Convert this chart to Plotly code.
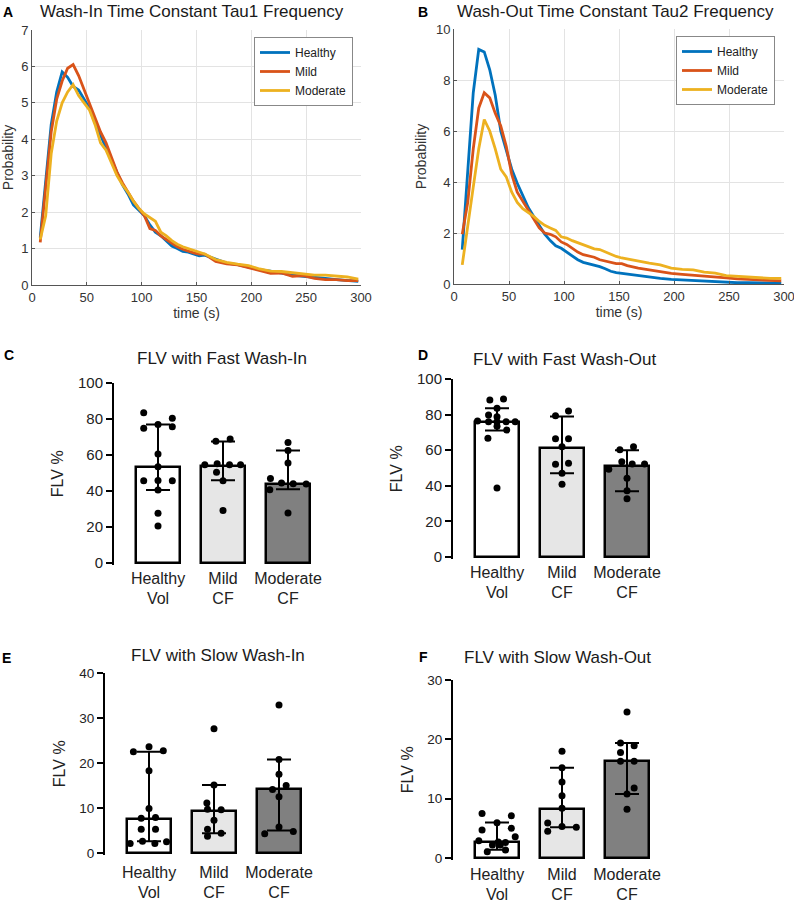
import plotly.graph_objects as go

# ---- data: histograms of time constants (A, B) ----
t = [7.5, 12.5, 17.5, 22.5, 27.5, 32.5, 37.5, 42.5, 47.5, 52.5, 57.5, 62.5, 67.5, 72.5, 77.5,
     82.5, 87.5, 92.5, 97.5, 102.5, 107.5, 112.5, 117.5, 122.5, 127.5, 132.5, 137.5, 142.5,
     147.5, 152.5, 157.5, 167.5, 177.5, 187.5, 197.5, 207.5, 217.5, 227.5, 237.5, 247.5,
     257.5, 267.5, 277.5, 287.5, 297.5]

a_healthy = [1.3, 2.9, 4.4, 5.3, 5.85, 5.7, 5.45, 5.35, 5.1, 4.85, 4.45, 4.1, 3.8, 3.4, 3.05,
             2.75, 2.5, 2.2, 2.05, 1.9, 1.65, 1.45, 1.35, 1.2, 1.07, 1.0, 0.92, 0.9, 0.86, 0.8,
             0.82, 0.7, 0.6, 0.56, 0.48, 0.42, 0.38, 0.32, 0.27, 0.24, 0.2, 0.18, 0.15, 0.13, 0.1]
a_mild = [1.17, 2.6, 4.2, 5.1, 5.6, 5.95, 6.05, 5.75, 5.35, 4.95, 4.55, 4.2, 3.9, 3.5, 3.1,
          2.8, 2.55, 2.3, 2.1, 1.9, 1.55, 1.5, 1.35, 1.25, 1.15, 1.05, 0.98, 0.92, 0.88, 0.85,
          0.85, 0.65, 0.58, 0.55, 0.48, 0.4, 0.32, 0.33, 0.24, 0.26, 0.18, 0.15, 0.15, 0.12, 0.12]
a_moderate = [1.25, 1.9, 3.6, 4.5, 5.0, 5.3, 5.5, 5.2, 5.0, 4.8, 4.4, 3.9, 3.7, 3.35, 3.0,
              2.75, 2.55, 2.3, 2.1, 1.95, 1.85, 1.75, 1.45, 1.35, 1.22, 1.12, 1.05, 1.0, 0.93,
              0.9, 0.85, 0.7, 0.62, 0.57, 0.53, 0.44, 0.38, 0.37, 0.33, 0.3, 0.27, 0.27, 0.24,
              0.22, 0.16]

b_healthy = [1.35, 4.4, 7.5, 9.2, 9.1, 8.4, 7.4, 6.0, 5.2, 4.5, 3.95, 3.5, 3.0, 2.65, 2.3,
             1.95, 1.7, 1.5, 1.4, 1.25, 1.1, 0.95, 0.85, 0.8, 0.75, 0.68, 0.6, 0.5, 0.45, 0.42,
             0.38, 0.32, 0.27, 0.22, 0.18, 0.16, 0.13, 0.11, 0.08, 0.06, 0.05, 0.05, 0.04, 0.04,
             0.03]
b_mild = [1.95, 3.2, 5.3, 6.9, 7.5, 7.3, 6.7, 6.2, 5.4, 4.3, 3.6, 3.25, 2.9, 2.5, 2.2, 2.0,
          1.95, 1.85, 1.65, 1.55, 1.4, 1.25, 1.15, 1.1, 1.05, 0.95, 0.9, 0.85, 0.8, 0.8, 0.72,
          0.62, 0.55, 0.5, 0.42, 0.38, 0.35, 0.3, 0.27, 0.24, 0.2, 0.18, 0.15, 0.13, 0.12]
b_moderate = [0.75, 2.2, 3.8, 5.3, 6.45, 6.0, 5.3, 4.5, 4.2, 3.6, 3.2, 2.95, 2.8, 2.65, 2.45,
              2.3, 2.2, 2.1, 1.85, 1.8, 1.7, 1.62, 1.55, 1.45, 1.38, 1.35, 1.25, 1.15, 1.08,
              1.02, 0.98, 0.88, 0.82, 0.75, 0.62, 0.57, 0.55, 0.47, 0.43, 0.33, 0.3, 0.28, 0.24,
              0.22, 0.22]

# ---- data: FLV bar panels (C-F) ----
groups = ["Healthy<br>Vol", "Mild<br>CF", "Moderate<br>CF"]

c_bar = [53.5, 54, 44]
c_lo = [40.5, 46, 41]
c_hi = [77, 67.5, 62.5]
c_pts = [[83.5, 80.4, 77, 74.8, 75.7, 60.5, 53.5, 45.7, 45.9, 45.7, 40.5, 27.6, 20.6],
         [67.6, 68.9, 54.6, 55.2, 54.6, 54.6, 50.4, 45.7, 29.1],
         [67, 62.5, 55.6, 47, 44.4, 44, 43.9, 40.7, 27.8]]
c_jit = [[-0.22, 0.22, 0, -0.22, 0.22, 0, 0, -0.22, 0, 0.22, 0, 0, 0],
         [-0.11, 0.11, -0.28, -0.09, 0.1, 0.27, -0.1, 0, 0],
         [0, 0, 0, -0.27, -0.1, 0.08, 0.28, -0.28, 0]]

d_bar = [76, 61, 51]
d_lo = [71, 47, 37]
d_hi = [83.5, 79, 60]
d_pts = [[88.2, 88.8, 83.5, 79.8, 78.8, 76.4, 76, 76, 76, 76, 73.5, 71.3, 66.7, 38.7],
         [82, 79.3, 66.5, 66.5, 62, 52.1, 52.7, 47, 40.9],
         [62, 60.2, 53.5, 52.2, 52.3, 49.3, 44.3, 37.2, 32.7]]
d_jit = [[-0.11, 0.1, 0, -0.13, 0, -0.3, -0.13, 0, 0.14, 0.28, 0, 0.15, -0.14, 0],
         [0.1, -0.1, -0.1, 0.1, 0, -0.1, 0.1, 0, 0],
         [0.1, -0.11, -0.08, 0.08, 0.27, -0.28, 0, 0, 0]]

e_bar = [7.6, 9.3, 14.2]
e_lo = [2.6, 4.4, 5.0]
e_hi = [22.5, 15.1, 20.8]
e_pts = [[22.5, 23.6, 22.7, 18.3, 9.9, 7.7, 7.9, 5.3, 5.3, 2.1, 2.6, 2.1, 2.5],
         [27.6, 15.1, 11.1, 9.7, 9.6, 7.3, 5.3, 4.4, 3.7],
         [32.9, 20.8, 17.5, 15, 14.1, 12.5, 5.8, 4.3, 4.8]]
e_jit = [[-0.24, 0, 0.22, 0, 0, -0.12, 0.1, -0.12, 0.1, -0.29, -0.1, 0.09, 0.27],
         [0, 0, -0.11, -0.1, 0.11, 0, -0.1, 0.11, -0.1],
         [0, 0, 0, 0.11, -0.1, 0, 0, -0.22, 0.22]]

f_bar = [2.7, 8.2, 16.3]
f_lo = [1.4, 5.2, 10.8]
f_hi = [6.0, 15.2, 19.4]
f_pts = [[7.5, 7.1, 5.95, 4.7, 5.0, 3.6, 2.9, 2.7, 2.2, 2.6, 2.2, 1.06, 1.35],
         [18, 15.2, 12.8, 10.5, 8.4, 5.9, 4.5, 5.3, 5.2],
         [24.6, 19.4, 17.8, 16.3, 16.3, 11.8, 10.8, 8.2, 18.9]]
f_jit = [[-0.23, 0.22, 0, -0.23, 0.22, 0.28, -0.28, 0.02, -0.07, 0.13, 0.05, -0.15, 0.13],
         [0, 0, 0, 0, 0, -0.22, -0.22, 0, 0.22],
         [0, -0.1, -0.1, -0.1, 0.11, 0.11, 0, 0, 0.11]]

W, H = 794, 903
FONT = "Liberation Sans, Arial, sans-serif"
colors = ["#0072BD", "#D95319", "#EDB120"]
fills = ["#ffffff", "#e6e6e6", "#808080"]


def px_x(a, b):
    return [a / W, b / W]


def px_y(top, bottom):
    return [1 - bottom / H, 1 - top / H]


fig = go.Figure()

# line panels
for i, (name, ya, yb) in enumerate(zip(["Healthy", "Mild", "Moderate"],
                                       [a_healthy, a_mild, a_moderate],
                                       [b_healthy, b_mild, b_moderate])):
    fig.add_trace(go.Scatter(x=t, y=ya, mode="lines", name=name, line=dict(color=colors[i], width=2.8),
                             xaxis="x", yaxis="y", legend="legend"))
    fig.add_trace(go.Scatter(x=t, y=yb, mode="lines", name=name, line=dict(color=colors[i], width=2.8),
                             xaxis="x2", yaxis="y2", legend="legend2"))

line_ax = dict(showgrid=True, gridcolor="#e3e3e3", showline=True, linecolor="#555", linewidth=1,
               ticks="inside", ticklen=3, tickcolor="#555", zeroline=False, automargin=False,
               ticklabeloverflow="allow", tickfont=dict(size=13, color="#333", family=FONT))
fig.update_layout(
    xaxis=dict(line_ax, domain=px_x(32, 361), range=[0, 300], dtick=50, anchor="y",
               title=dict(text="time (s)", font=dict(size=14, color="#333"), standoff=4)),
    yaxis=dict(line_ax, domain=px_y(30, 285), range=[0, 7], dtick=1, anchor="x",
               title=dict(text="Probability", font=dict(size=14, color="#333"), standoff=6)),
    xaxis2=dict(line_ax, domain=px_x(454, 784), range=[0, 300], dtick=50, anchor="y2",
                title=dict(text="time (s)", font=dict(size=14, color="#333"), standoff=4)),
    yaxis2=dict(line_ax, domain=px_y(29, 284), range=[0, 10], dtick=2, anchor="x2",
                title=dict(text="Probability", font=dict(size=14, color="#333"), standoff=6)),
)

# bar panels: (bar, lo, hi, points, jitter, axis id, x axis px, y0 px, ytop px, ymax, dtick, tickfont, label gap)
panels = [
    (c_bar, c_lo, c_hi, c_pts, c_jit, 3, 114, 563, 383, 100, 20, 15, 2),
    (d_bar, d_lo, d_hi, d_pts, d_jit, 4, 453, 557, 379, 100, 20, 15, 2),
    (e_bar, e_lo, e_hi, e_pts, e_jit, 5, 105, 853, 673, 40, 10, 13.5, 6),
    (f_bar, f_lo, f_hi, f_pts, f_jit, 6, 453, 858, 680, 30, 10, 13.5, 3),
]
cats = [0, 1, 2]
for bar, lo, hi, pts, jit, k, axx, y0, ytop, ymax, dt, tfs, standoff in panels:
    xa, ya = f"x{k}", f"y{k}"
    fig.add_trace(go.Bar(
        x=cats, y=bar, width=0.677, marker=dict(color=fills, line=dict(color="black", width=2.5)),
        error_y=dict(type="data", symmetric=False,
                     array=[h - b for h, b in zip(hi, bar)],
                     arrayminus=[b - l for b, l in zip(bar, lo)],
                     color="black", thickness=2, width=12),
        xaxis=xa, yaxis=ya, showlegend=False))
    xs, ys = [], []
    for c, vals, js in zip(cats, pts, jit):
        xs += [c + j for j in js]
        ys += vals
    fig.add_trace(go.Scatter(x=xs, y=ys, mode="markers", marker=dict(color="black", size=7),
                             xaxis=xa, yaxis=ya, showlegend=False, cliponaxis=False))
    ppu = (y0 - ytop) / ymax
    pad = 1.5 / ppu
    fig.update_layout({
        f"xaxis{k}": dict(domain=px_x(axx, axx + 3.077 * 65), range=[-0.677, 2.4], anchor=ya,
                          showline=False, showgrid=False, zeroline=False, ticks="", automargin=False,
                          tickvals=cats, ticktext=groups, ticklabelstandoff=standoff,
                          tickfont=dict(size=16, color="#222", family=FONT)),
        f"yaxis{k}": dict(domain=px_y(ytop, y0 + 1.5), range=[-pad, ymax], anchor=xa,
                          showline=True, linecolor="black", linewidth=2, showgrid=False,
                          zeroline=False, ticks="outside", ticklen=6, tickwidth=2, automargin=False,
                          tickcolor="black", tickvals=list(range(0, ymax + 1, dt)),
                          tickfont=dict(size=tfs, color="#222", family=FONT),
                          title=dict(text="FLV %", font=dict(size=16, color="#222"),
                                     standoff=10)),
    })

ann = []
titles = [
    ("Wash-In Time Constant Tau1 Frequency", 192, 11, 17),
    ("Wash-Out Time Constant Tau2 Frequency", 615, 11, 17),
    ("FLV with Fast Wash-In", 222, 358, 17),
    ("FLV with Fast Wash-Out", 565, 360, 17),
    ("FLV with Slow Wash-In", 218, 655, 17),
    ("FLV with Slow Wash-Out", 557, 657, 17),
]
for txt, x, y, s in titles:
    ann.append(dict(text=txt, x=x / W, y=1 - y / H, xref="paper", yref="paper", showarrow=False,
                    xanchor="center", yanchor="middle", font=dict(size=s, color="#1a1a1a", family=FONT)))
letters = [("A", 8, 12), ("B", 423, 12), ("C", 9, 355), ("D", 423, 355), ("E", 6, 658), ("F", 423, 657)]
for txt, x, y in letters:
    ann.append(dict(text=f"<b>{txt}</b>", x=x / W, y=1 - y / H, xref="paper", yref="paper",
                    showarrow=False, xanchor="center", yanchor="middle",
                    font=dict(size=14, color="black", family=FONT)))

leg = dict(bgcolor="white", bordercolor="#888", borderwidth=1, font=dict(size=12, color="#222", family=FONT),
           xanchor="right", yanchor="top", tracegroupgap=0, itemwidth=30)
fig.update_layout(
    width=W, height=H, margin=dict(l=0, r=0, t=0, b=0, autoexpand=False),
    paper_bgcolor="white", plot_bgcolor="white", font=dict(family=FONT),
    annotations=ann, bargap=0,
    legend=dict(leg, x=353 / W, y=1 - 37 / H),
    legend2=dict(leg, x=775 / W, y=1 - 36 / H),
)

# the page's default body margin would shift the figure by 8px
fig.write_html("out.html", config={"displayModeBar": False},
               post_script="document.body.style.margin='0';document.body.style.overflow='hidden';")
